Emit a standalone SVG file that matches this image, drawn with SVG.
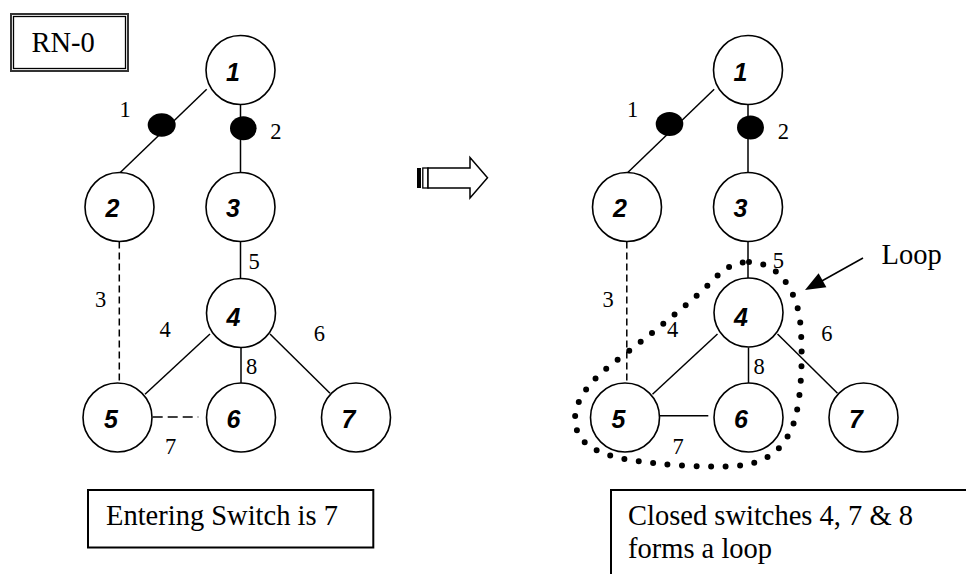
<svg xmlns="http://www.w3.org/2000/svg" width="966" height="574" viewBox="0 0 966 574">
<style>
.nc{fill:#fff;stroke:#000;stroke-width:1.6}
.nl{font-family:"Liberation Sans",Arial,sans-serif;font-weight:bold;font-style:italic;font-size:25px;text-anchor:middle;fill:#000}
.el{font-family:"Liberation Serif","Times New Roman",serif;font-size:22.5px;text-anchor:middle;fill:#000}
.tx{font-family:"Liberation Serif","Times New Roman",serif;font-size:28.5px;fill:#000}
.e{stroke:#000;stroke-width:1.5;fill:none}
.d{stroke-dasharray:7 4}
.sw{fill:#000}
.box{fill:#fff;stroke:#000;stroke-width:2}
</style>
<rect width="966" height="574" fill="#fff"/>

<!-- RN-0 label box -->
<g id="rn0">
<rect x="11" y="14" width="117" height="57" fill="#fff" stroke="#333" stroke-width="2"/>
<rect x="13.5" y="16.5" width="112" height="52" fill="none" stroke="#000" stroke-width="1.3"/>
<text class="tx" x="31.5" y="52" font-size="29">RN-0</text>
</g>

<!-- connectors: left graph -->
<g id="connectors-left">
<line class="e" x1="206.7" y1="89.3" x2="120" y2="172.7"/>
<line class="e" x1="240.5" y1="104.5" x2="240.5" y2="172.5"/>
<line class="e d" x1="119.3" y1="241.5" x2="119.3" y2="383"/>
<line class="e" x1="240.5" y1="241.5" x2="240.5" y2="278.5"/>
<line class="e" x1="210" y1="334" x2="145" y2="394.3"/>
<line class="e" x1="241" y1="347.5" x2="241" y2="383"/>
<line class="e" x1="270" y1="334" x2="330" y2="393.3"/>
<line class="e" x1="152.7" y1="417" x2="198.3" y2="417" stroke-dasharray="10 5"/>
<ellipse class="sw" cx="161.7" cy="125" rx="14" ry="11.7"/>
<ellipse class="sw" cx="243.3" cy="128.3" rx="13.3" ry="12"/>
<text class="el" x="125" y="117.3">1</text>
<text class="el" x="275.8" y="139.3">2</text>
<text class="el" x="100.7" y="307.3">3</text>
<text class="el" x="165" y="337.3">4</text>
<text class="el" x="254" y="269.3">5</text>
<text class="el" x="319.3" y="340.7">6</text>
<text class="el" x="170.7" y="454">7</text>
<text class="el" x="251.7" y="374">8</text>
</g>

<!-- nodes: left graph -->
<g id="L1"><circle class="nc" cx="240.5" cy="70" r="34.5"/><text class="nl" x="233" y="80.5">1</text></g>
<g id="L2"><circle class="nc" cx="119.5" cy="207" r="34.5"/><text class="nl" x="112.5" y="217">2</text></g>
<g id="L3"><circle class="nc" cx="240.5" cy="207" r="34.5"/><text class="nl" x="233" y="217">3</text></g>
<g id="L4"><circle class="nc" cx="241" cy="313" r="34.5"/><text class="nl" x="233.5" y="326">4</text></g>
<g id="L5"><circle class="nc" cx="117.5" cy="417.5" r="34.5"/><text class="nl" x="111" y="427.5">5</text></g>
<g id="L6"><circle class="nc" cx="241" cy="417.5" r="34.5"/><text class="nl" x="233.5" y="427.5">6</text></g>
<g id="L7"><circle class="nc" cx="356" cy="417.5" r="34.5"/><text class="nl" x="348.5" y="427.5">7</text></g>

<!-- middle striped arrow -->
<g id="transition-arrow">
<rect x="417" y="168" width="4" height="20" fill="#000"/>
<rect x="422.8" y="168" width="5.2" height="20" fill="none" stroke="#000" stroke-width="1.3"/>
<polygon points="428,168 470,168 470,157.5 487.5,177.8 470,198 470,188 428,188" fill="#fff" stroke="#000" stroke-width="1.5" stroke-linejoin="miter"/>
</g>

<!-- connectors: right graph -->
<g id="connectors-right">
<line class="e" x1="714.2" y1="89.3" x2="627.5" y2="172.7"/>
<line class="e" x1="748" y1="104.5" x2="748" y2="172.5"/>
<line class="e d" x1="626.8" y1="241.5" x2="626.8" y2="383"/>
<line class="e" x1="748" y1="241.5" x2="748" y2="278.5"/>
<line class="e" x1="717.5" y1="334" x2="652.5" y2="394.3"/>
<line class="e" x1="748.5" y1="347.5" x2="748.5" y2="383"/>
<line class="e" x1="777.5" y1="334" x2="837.5" y2="393.3"/>
<line class="e" x1="660" y1="415.7" x2="708.3" y2="415.7"/>
<ellipse class="sw" cx="669.5" cy="124" rx="13.8" ry="12"/>
<ellipse class="sw" cx="750.5" cy="127.5" rx="13.5" ry="12"/>
<text class="el" x="632.5" y="117.3">1</text>
<text class="el" x="783.3" y="139.3">2</text>
<text class="el" x="608.2" y="307.3">3</text>
<text class="el" x="672.5" y="337.3">4</text>
<text class="el" x="778.3" y="267.7">5</text>
<text class="el" x="826.8" y="340.7">6</text>
<text class="el" x="678.2" y="454">7</text>
<text class="el" x="759.2" y="374">8</text>
</g>

<!-- nodes: right graph -->
<g id="R1"><circle class="nc" cx="748" cy="70" r="34.5"/><text class="nl" x="740.5" y="80.5">1</text></g>
<g id="R2"><circle class="nc" cx="627" cy="207" r="34.5"/><text class="nl" x="620" y="217">2</text></g>
<g id="R3"><circle class="nc" cx="748" cy="207" r="34.5"/><text class="nl" x="740.5" y="217">3</text></g>
<g id="R4"><circle class="nc" cx="748.5" cy="312.5" r="34.5"/><text class="nl" x="741" y="325.5">4</text></g>
<g id="R5"><circle class="nc" cx="625" cy="417.5" r="34.5"/><text class="nl" x="618.5" y="427.5">5</text></g>
<g id="R6"><circle class="nc" cx="748.5" cy="417.5" r="34.5"/><text class="nl" x="741" y="427.5">6</text></g>
<g id="R7"><circle class="nc" cx="863.5" cy="417.5" r="34.5"/><text class="nl" x="856" y="427.5">7</text></g>

<!-- dotted loop -->
<g id="loop">
<path d="M749 262 C775 262 795 285 800 320 C803 350 802 390 796 415 C790 440 775 460 745 465 C710 469 660 465 625 459 C590 452 575 440 575 418 C576 398 590 380 620 358 C660 327 700 295 720 273 C730 265 740 262 749 262 Z" fill="none" stroke="#000" stroke-width="6" stroke-linecap="round" stroke-dasharray="0 14.5"/>
<line x1="863" y1="258" x2="820" y2="282" stroke="#000" stroke-width="1.5"/>
<polygon points="805,290 818.6,273.3 826.4,287.3" fill="#000"/>
<text class="tx" x="881.5" y="264.3">Loop</text>
</g>

<!-- bottom text boxes -->
<g id="note-left">
<rect class="box" x="88" y="490" width="285.3" height="57.5"/>
<text class="tx" x="106" y="525">Entering Switch is 7</text>
</g>
<g id="note-right">
<rect class="box" x="611" y="490" width="400" height="120"/>
<text class="tx" x="628" y="525">Closed switches 4, 7 &amp; 8</text>
<text class="tx" x="628" y="558">forms a loop</text>
</g>
</svg>
